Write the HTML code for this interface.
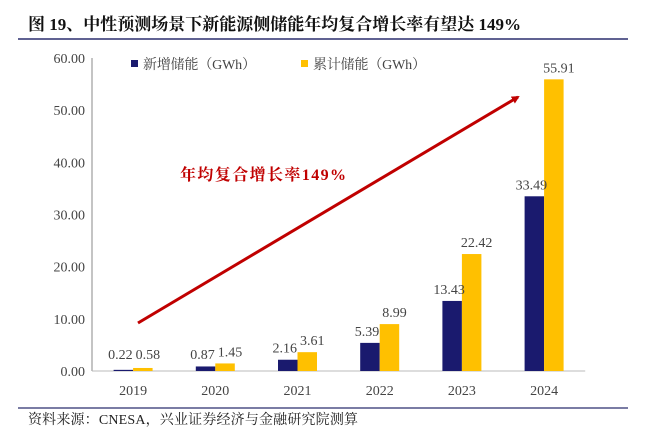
<!DOCTYPE html>
<html><head><meta charset="utf-8"><style>
body{margin:0;background:#fff;width:646px;height:429px;overflow:hidden}
svg text{font-family:"Liberation Serif","Noto Serif CJK SC",serif}
</style></head><body>
<svg id="c" width="646" height="429">
<text x="28" y="30" font-size="17" font-weight="bold" fill="#111" textLength="493">图 19、中性预测场景下新能源侧储能年均复合增长率有望达 149%</text>
<line x1="18" y1="39" x2="628" y2="39" stroke="#2b2f6e" stroke-width="1.5"/>
<line x1="18" y1="408" x2="628" y2="408" stroke="#2b2f6e" stroke-width="1.2"/>
<text x="28" y="424" font-size="14" fill="#222" textLength="330">资料来源：CNESA，兴业证券经济与金融研究院测算</text>
<g id="axes"></g><g id="bars"></g>
<rect x="131" y="60" width="7" height="7" fill="#1a1a6e"/>
<text x="143" y="69" font-size="14" fill="#444" textLength="113">新增储能（GWh）</text>
<rect x="301" y="60" width="7" height="7" fill="#ffc000"/>
<text x="313" y="69" font-size="14" fill="#444" textLength="113">累计储能（GWh）</text>
<defs><marker id="ah" markerWidth="8" markerHeight="8" refX="6" refY="4" orient="auto" markerUnits="userSpaceOnUse"><path d="M0,0 L8,4 L0,8 Z" fill="#c00000"/></marker></defs>
<line x1="138" y1="323" x2="518" y2="97" stroke="#c00000" stroke-width="3" marker-end="url(#ah)"/>
<text x="180" y="180" font-size="16" font-weight="bold" fill="#c00000" textLength="166">年均复合增长率149%</text>
</svg>
<script>
const categories=["2019","2020","2021","2022","2023","2024"];
const newStorage=[0.22,0.87,2.16,5.39,13.43,33.49];
const cumStorage=[0.58,1.45,3.61,8.99,22.42,55.91];
const yTicks=[0,10,20,30,40,50,60];
const NS="http://www.w3.org/2000/svg";
const X0=92,STEP=82.2,Y0=371,YT=58;
const y=v=>Y0-(v/60)*(Y0-YT);
const cx=i=>X0+STEP*(i+0.5);
function mk(t,a,p){const e=document.createElementNS(NS,t);for(const k in a)e.setAttribute(k,a[k]);p.appendChild(e);return e;}
const ax=document.getElementById('axes'),bg=document.getElementById('bars');
yTicks.forEach(v=>{const t=mk('text',{x:X0-7,y:y(v)+5,'text-anchor':'end','font-size':14,fill:'#444'},ax);t.textContent=v.toFixed(2);

});
let l=mk('line',{x1:X0,y1:YT,x2:X0,y2:Y0,stroke:'#888','stroke-width':1},ax);


l=mk('line',{x1:X0,y1:Y0,x2:X0+STEP*6,y2:Y0,stroke:'#bbb','stroke-width':1},ax);


categories.forEach((c,i)=>{
const t=mk('text',{x:cx(i),y:395,'text-anchor':'middle','font-size':14,fill:'#444'},ax);t.textContent=c;


const w=19.5;
const b1=mk('rect',{x:cx(i)-w,y:y(newStorage[i]),width:w,height:Y0-y(newStorage[i]),fill:'#1a1a6e'},bg);


const b2=mk('rect',{x:cx(i),y:y(cumStorage[i]),width:w,height:Y0-y(cumStorage[i]),fill:'#ffc000'},bg);


const l1=mk('text',{x:cx(i)-w/2-3,y:Math.min(y(newStorage[i])-7,y(0)-12),'text-anchor':'middle','font-size':14,fill:'#444'},bg);l1.textContent=newStorage[i].toFixed(2);


const l2=mk('text',{x:cx(i)+w/2+5,y:Math.min(y(cumStorage[i])-7,y(0)-12),'text-anchor':'middle','font-size':14,fill:'#444'},bg);l2.textContent=cumStorage[i].toFixed(2);


});
</script>
</body></html>
